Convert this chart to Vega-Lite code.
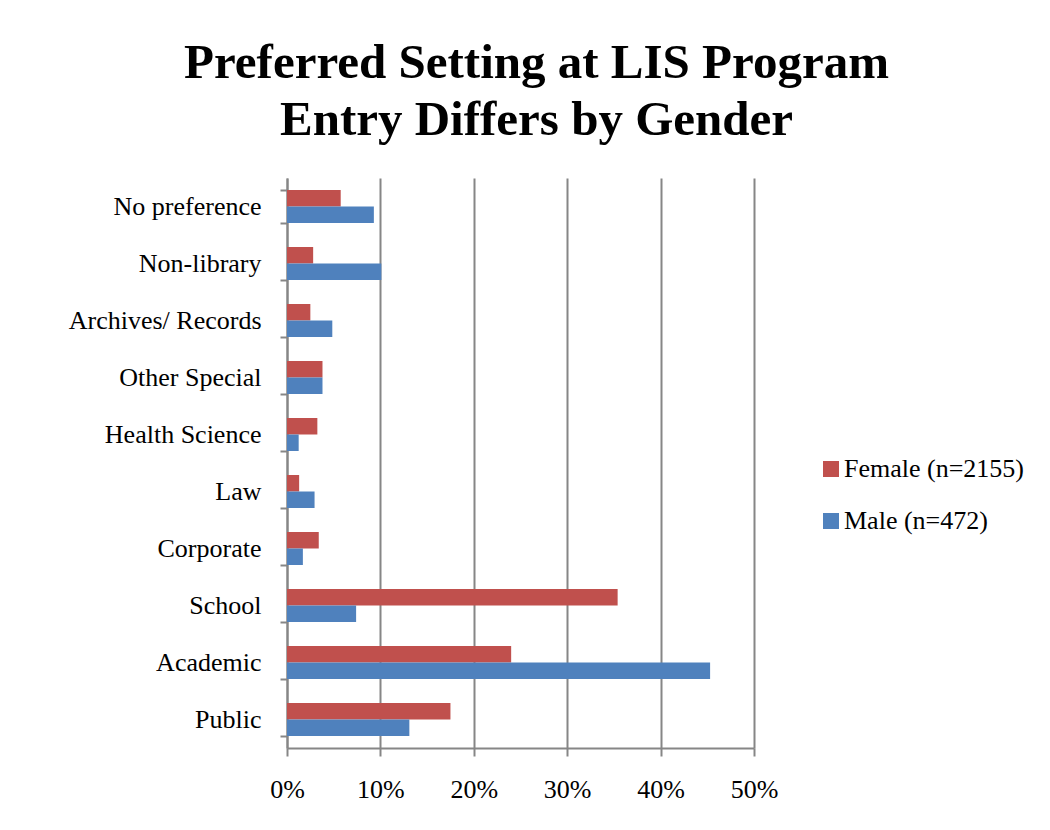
{
  "$schema": "https://vega.github.io/schema/vega-lite/v6.json",
  "autosize": {"type": "none"},
  "width": 467,
  "height": 570,
  "padding": {"left": 287, "top": 178, "right": 296, "bottom": 82},
  "background": "white",
  "title": {
    "text": ["Preferred Setting at LIS Program", "Entry Differs by Gender"],
    "font": "Liberation Serif",
    "fontSize": 49,
    "fontWeight": "bold",
    "lineHeight": 57,
    "color": "black",
    "anchor": "middle",
    "frame": "group",
    "dx": 16,
    "offset": 20
  },
  "data": {
    "values": [
      {"setting": "No preference", "gender": "Female (n=2155)", "value": 0.0575},
      {"setting": "No preference", "gender": "Male (n=472)", "value": 0.093},
      {"setting": "Non-library", "gender": "Female (n=2155)", "value": 0.028},
      {"setting": "Non-library", "gender": "Male (n=472)", "value": 0.101},
      {"setting": "Archives/ Records", "gender": "Female (n=2155)", "value": 0.025},
      {"setting": "Archives/ Records", "gender": "Male (n=472)", "value": 0.0485},
      {"setting": "Other Special", "gender": "Female (n=2155)", "value": 0.038},
      {"setting": "Other Special", "gender": "Male (n=472)", "value": 0.038},
      {"setting": "Health Science", "gender": "Female (n=2155)", "value": 0.0325},
      {"setting": "Health Science", "gender": "Male (n=472)", "value": 0.0125},
      {"setting": "Law", "gender": "Female (n=2155)", "value": 0.013},
      {"setting": "Law", "gender": "Male (n=472)", "value": 0.0295},
      {"setting": "Corporate", "gender": "Female (n=2155)", "value": 0.034},
      {"setting": "Corporate", "gender": "Male (n=472)", "value": 0.017},
      {"setting": "School", "gender": "Female (n=2155)", "value": 0.354},
      {"setting": "School", "gender": "Male (n=472)", "value": 0.074},
      {"setting": "Academic", "gender": "Female (n=2155)", "value": 0.240},
      {"setting": "Academic", "gender": "Male (n=472)", "value": 0.453},
      {"setting": "Public", "gender": "Female (n=2155)", "value": 0.175},
      {"setting": "Public", "gender": "Male (n=472)", "value": 0.131}
    ]
  },
  "mark": {"type": "bar", "stroke": null},
  "encoding": {
    "y": {
      "field": "setting",
      "type": "nominal",
      "sort": ["No preference", "Non-library", "Archives/ Records", "Other Special", "Health Science", "Law", "Corporate", "School", "Academic", "Public"],
      "scale": {"paddingInner": 0.42, "paddingOuter": 0.21},
      "axis": {
        "title": null,
        "tickBand": "extent",
        "labelFont": "Liberation Serif",
        "labelFontSize": 26,
        "labelColor": "black",
        "labelPadding": 19,
        "tickSize": 7,
        "tickWidth": 2,
        "tickColor": "#868686",
        "domainColor": "#868686",
        "domainWidth": 2,
        "grid": false
      }
    },
    "yOffset": {
      "field": "gender",
      "type": "nominal",
      "sort": ["Female (n=2155)", "Male (n=472)"]
    },
    "x": {
      "field": "value",
      "type": "quantitative",
      "scale": {"domain": [0, 0.5], "nice": false},
      "axis": {
        "title": null,
        "values": [0, 0.1, 0.2, 0.3, 0.4, 0.5],
        "format": ".0%",
        "labelFlush": false,
        "labelFont": "Liberation Serif",
        "labelFontSize": 26,
        "labelColor": "black",
        "labelPadding": 20,
        "tickSize": 8,
        "tickWidth": 2,
        "tickColor": "#868686",
        "domainColor": "#868686",
        "domainWidth": 2,
        "grid": true,
        "gridColor": "#868686",
        "gridWidth": 2,
        "gridOpacity": 1
      }
    },
    "color": {
      "field": "gender",
      "type": "nominal",
      "sort": ["Female (n=2155)", "Male (n=472)"],
      "scale": {"domain": ["Female (n=2155)", "Male (n=472)"], "range": ["#C0504D", "#4F81BD"]},
      "legend": {
        "title": null,
        "orient": "none",
        "legendX": 531,
        "legendY": 278,
        "symbolType": "square",
        "symbolSize": 256,
        "symbolStrokeWidth": 0,
        "labelFont": "Liberation Serif",
        "labelFontSize": 26,
        "labelColor": "black",
        "labelOffset": 0,
        "rowPadding": 26
      }
    }
  },
  "config": {
    "view": {"stroke": null},
    "axis": {"labelLimit": 400},
    "legend": {"labelLimit": 400}
  }
}
